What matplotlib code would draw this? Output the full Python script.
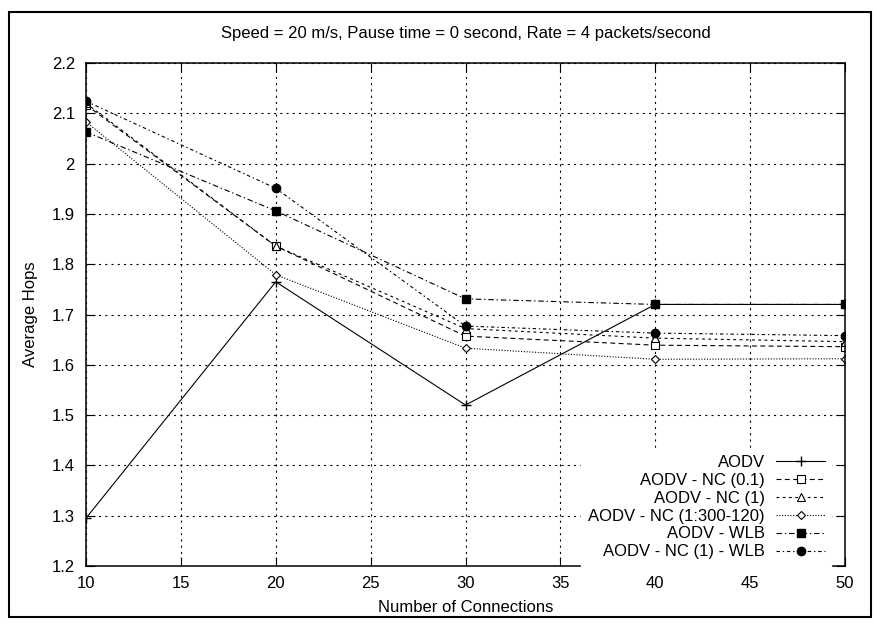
import matplotlib.pyplot as plt
from matplotlib.patches import Rectangle

plt.rcParams['font.family'] = ['Liberation Sans', 'DejaVu Sans']
plt.rcParams['lines.scale_dashes'] = False

# Data
connections = [10, 20, 30, 40, 50]
aodv = [1.295, 1.765, 1.520, 1.720, 1.720]
aodv_nc01 = [2.117, 1.836, 1.657, 1.639, 1.636]
aodv_nc1 = [2.120, 1.836, 1.672, 1.653, 1.646]
aodv_nc_300 = [2.083, 1.779, 1.633, 1.611, 1.612]
aodv_wlb = [2.063, 1.906, 1.731, 1.720, 1.720]
aodv_nc1_wlb = [2.124, 1.951, 1.677, 1.663, 1.658]

labels = ['AODV', 'AODV - NC (0.1)', 'AODV - NC (1)', 'AODV - NC (1:300-120)',
          'AODV - WLB', 'AODV - NC (1) - WLB']
xticks = [10, 15, 20, 25, 30, 35, 40, 45, 50]
yticks = [1.2, 1.3, 1.4, 1.5, 1.6, 1.7, 1.8, 1.9, 2.0, 2.1, 2.2]
ytick_labels = ['1.2', '1.3', '1.4', '1.5', '1.6', '1.7', '1.8', '1.9', '2', '2.1', '2.2']

fs = 12

fig = plt.figure(figsize=(8.75, 6.23), dpi=100)
ax = fig.add_axes([86 / 875, 1 - 566 / 623, 759 / 875, 503 / 623])

# outer frame around the whole picture
fig.patches.append(Rectangle((9 / 875, 1 - 617 / 623), 862 / 875, 605 / 623,
                             transform=fig.transFigure, fill=False,
                             edgecolor='black', linewidth=1.5))

lw = 0.8
ax.plot(connections, aodv, color='black', lw=lw, marker='+', ms=7, mew=1.0,
        label=labels[0])
ax.plot(connections, aodv_nc01, color='black', lw=lw, dashes=(3.5, 2.5),
        marker='s', ms=6, mfc='white', mew=0.8, label=labels[1])
ax.plot(connections, aodv_nc1, color='black', lw=lw, dashes=(2, 2.5),
        marker='^', ms=6, mfc='white', mew=0.8, label=labels[2])
ax.plot(connections, aodv_nc_300, color='black', lw=lw, dashes=(0.8, 1.2),
        marker='D', ms=4.5, mfc='white', mew=0.8, label=labels[3])
ax.plot(connections, aodv_wlb, color='black', lw=lw, dashes=(4, 2, 1, 2),
        marker='s', ms=6, label=labels[4])
ax.plot(connections, aodv_nc1_wlb, color='black', lw=lw, dashes=(2.5, 2, 1, 2),
        marker='o', ms=6, label=labels[5])

ax.set_xlim(10, 50)
ax.set_ylim(1.2, 2.2)
ax.set_xticks(xticks)
ax.set_yticks(yticks)
ax.set_yticklabels(ytick_labels)
ax.tick_params(direction='in', length=6.5, width=0.8, top=True, right=True,
               labelsize=fs)
ax.tick_params(axis='y', pad=8)
ax.tick_params(axis='x', pad=7)
ax.grid(True, color='black', lw=0.8, dashes=(1.5, 3))
ax.set_axisbelow(True)
for s in ax.spines.values():
    s.set_linewidth(1.1)

ax.set_xlabel('Number of Connections', fontsize=fs, labelpad=7)
ax.set_ylabel('Average Hops', fontsize=fs, labelpad=10)
ax.set_title('Speed = 20 m/s, Pause time = 0 second, Rate = 4 packets/second',
             fontsize=fs, pad=18)

leg = ax.legend(loc='lower right', bbox_to_anchor=(0.982, 0.0), borderaxespad=0,
                markerfirst=False, fontsize=fs, handlelength=2.9,
                handletextpad=0.7, labelspacing=0.17, frameon=True,
                fancybox=False, edgecolor='white', facecolor='white',
                framealpha=1, borderpad=0.4)
for col in leg._legend_handle_box.get_children():
    col.align = 'right'

fig.savefig('out.png', dpi=100)
